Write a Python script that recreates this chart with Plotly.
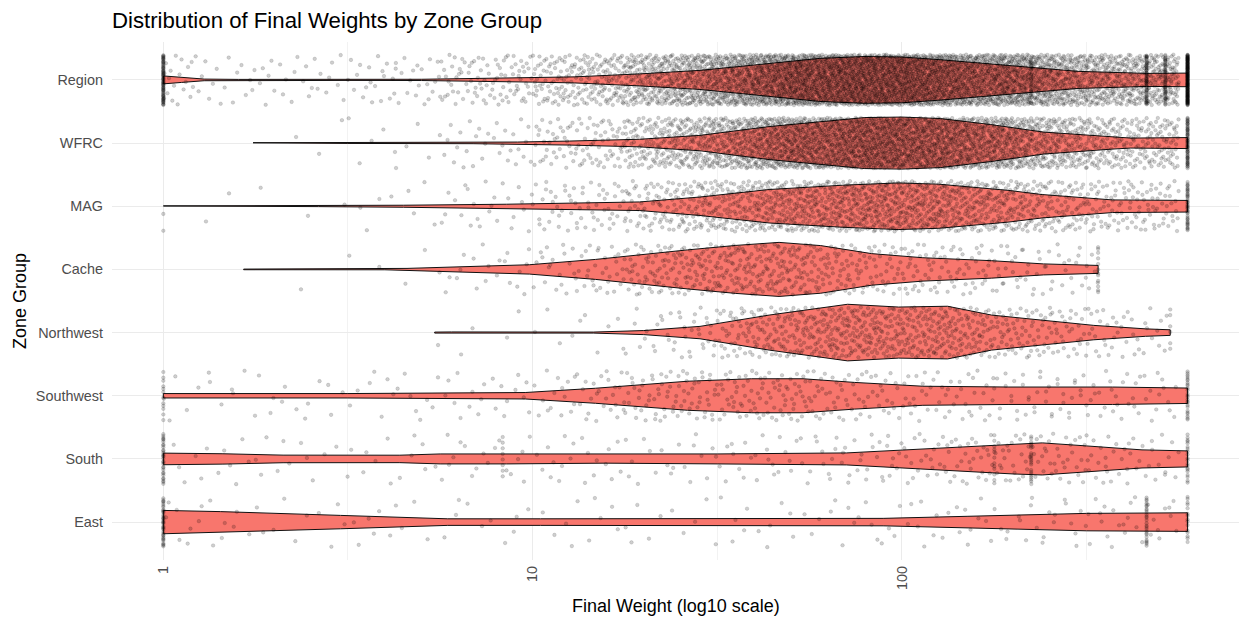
import math
import numpy as np
import plotly.graph_objects as go

# ---------------- data ----------------
groups = ["East", "South", "Southwest", "Northwest", "Cache", "MAG", "WFRC", "Region"]  # bottom -> top

# violin outlines: weight (x) and half-width (category units, max 0.45)
region_w = [1, 1.12, 1.29, 1.6, 3.2, 5.0, 7.2, 10, 13, 19.5, 28.4, 39, 60, 79, 100, 127, 195, 300, 460, 594]
region_hw = [0.063, 0.040, 0.013, 0.008, 0.008, 0.010, 0.024, 0.035, 0.048, 0.095, 0.151, 0.230, 0.341, 0.370, 0.362, 0.320, 0.230, 0.135, 0.103, 0.108]

wfrc_w = [1.75, 3.16, 6.9, 9.1, 12.6, 19.5, 28.4, 43.7, 79.4, 100, 127, 174, 242, 372, 417, 594]
wfrc_hw = [0.005, 0.006, 0.010, 0.016, 0.032, 0.060, 0.122, 0.261, 0.404, 0.412, 0.388, 0.293, 0.174, 0.095, 0.079, 0.087]

mag_w = [1, 2.63, 4.47, 8.5, 19.5, 28.4, 43.7, 69.2, 97.7, 126, 195, 240, 372, 594]
mag_hw = [0.005, 0.006, 0.016, 0.032, 0.068, 0.146, 0.265, 0.333, 0.369, 0.349, 0.250, 0.185, 0.100, 0.092]

cache_w = [1.65, 3.98, 4.57, 9.8, 14.8, 26.3, 35.5, 46.5, 60.3, 82.8, 114, 175, 242, 340]
cache_hw = [0.005, 0.006, 0.016, 0.074, 0.158, 0.309, 0.380, 0.428, 0.377, 0.250, 0.185, 0.138, 0.087, 0.063]

northwest_w = [5.43, 6.03, 14.6, 20, 26.3, 28.4, 43.7, 71.3, 98, 133, 175, 242, 331, 457, 533]
northwest_hw = [0.008, 0.010, 0.008, 0.032, 0.084, 0.098, 0.277, 0.448, 0.404, 0.417, 0.277, 0.190, 0.114, 0.059, 0.044]

southwest_w = [1, 3.16, 9.55, 14.8, 26.3, 39.2, 54, 74.5, 114, 195, 372, 594]
southwest_hw = [0.035, 0.035, 0.051, 0.119, 0.230, 0.269, 0.269, 0.211, 0.151, 0.138, 0.138, 0.122]

south_w = [1, 1.45, 2.11, 4.37, 5.62, 8.5, 15.8, 31.6, 70.8, 126, 200, 240, 316, 447, 594]
south_hw = [0.092, 0.082, 0.060, 0.059, 0.079, 0.079, 0.067, 0.079, 0.095, 0.174, 0.238, 0.254, 0.206, 0.143, 0.127]

east_w = [1, 1.43, 3.02, 5.89, 10.5, 89, 151, 316, 594]
east_hw = [0.185, 0.166, 0.106, 0.052, 0.052, 0.059, 0.092, 0.138, 0.147]

# observation counts per log10 bin [0,.25), [.25,.5), ... [2.5,2.75)
bin_edges_log = [0, 0.25, 0.5, 0.75, 1.0, 1.25, 1.5, 1.75, 2.0, 2.25, 2.5, 2.75]
region_counts = [35, 25, 40, 90, 200, 450, 800, 1000, 900, 650, 420]
wfrc_counts = [0, 3, 10, 30, 90, 280, 560, 760, 680, 420, 220]
mag_counts = [2, 3, 8, 25, 60, 150, 260, 330, 300, 190, 110]
cache_counts = [0, 1, 5, 20, 50, 130, 170, 110, 75, 45, 5]
northwest_counts = [0, 0, 1, 4, 10, 40, 140, 210, 190, 100, 40]
southwest_counts = [12, 12, 15, 20, 40, 75, 85, 60, 45, 40, 35]
south_counts = [12, 12, 12, 18, 20, 20, 25, 35, 50, 60, 40]
east_counts = [15, 10, 10, 10, 10, 10, 12, 15, 18, 22, 28]

# repeated exact values (vertical stacks of points)
region_spike_w = [1, 224, 460, 517, 594]
region_spike_n = [70, 20, 50, 40, 150]
wfrc_spike_w = [594]
wfrc_spike_n = [60]
mag_spike_w = [1, 594]
mag_spike_n = [2, 40]
cache_spike_w = [340]
cache_spike_n = [12]
northwest_spike_w = [533]
northwest_spike_n = [6]
southwest_spike_w = [1, 594]
southwest_spike_n = [12, 25]
south_spike_w = [1, 8.3, 178, 224, 594]
south_spike_n = [30, 8, 12, 20, 20]
east_spike_w = [1, 460, 594]
east_spike_n = [35, 25, 15]

tick_vals = [1, 10, 100]
tick_text = ["1", "10", "100"]

# ---------------- figure ----------------
violins = {
    "Region": (region_w, region_hw, region_counts, region_spike_w, region_spike_n),
    "WFRC": (wfrc_w, wfrc_hw, wfrc_counts, wfrc_spike_w, wfrc_spike_n),
    "MAG": (mag_w, mag_hw, mag_counts, mag_spike_w, mag_spike_n),
    "Cache": (cache_w, cache_hw, cache_counts, cache_spike_w, cache_spike_n),
    "Northwest": (northwest_w, northwest_hw, northwest_counts, northwest_spike_w, northwest_spike_n),
    "Southwest": (southwest_w, southwest_hw, southwest_counts, southwest_spike_w, southwest_spike_n),
    "South": (south_w, south_hw, south_counts, south_spike_w, south_spike_n),
    "East": (east_w, east_hw, east_counts, east_spike_w, east_spike_n),
}

FONT = "Liberation Sans, Arial, sans-serif"
fig = go.Figure()

for gi, g in enumerate(groups):
    w, hw, _, _, _ = violins[g]
    xs = list(w) + list(w[::-1]) + [w[0]]
    ys = [gi + h for h in hw] + [gi - h for h in hw[::-1]] + [gi + hw[0]]
    fig.add_trace(go.Scatter(
        x=xs, y=ys, mode="lines", fill="toself", fillcolor="#F8766D",
        line=dict(color="#111111", width=1), hoverinfo="skip", showlegend=False))


def halton(i, base):
    f, r = 1.0, 0.0
    while i > 0:
        f /= base
        r += f * (i % base)
        i //= base
    return r


# jittered points: positions inside each bin follow the violin outline,
# vertical jitter (+/-0.4) from a deterministic Halton sequence
px, py = [], []
k = 7
for gi, g in enumerate(groups):
    w, hw, counts, sw, sn = violins[g]
    lw = np.log10(np.array(w, dtype=float))
    lo, hi = lw[0], lw[-1]
    for i, c in enumerate(counts):
        a = max(bin_edges_log[i], lo)
        b = min(bin_edges_log[i + 1], hi)
        if b <= a or c == 0:
            continue
        grid = np.linspace(a, b, 60)
        dens = np.interp(grid, lw, np.array(hw)) + 0.02
        cdf = np.concatenate([[0], np.cumsum((dens[1:] + dens[:-1]) / 2)])
        for _ in range(c):
            k += 1
            u = halton(k, 2)
            v = halton(k, 3)
            lx = float(np.interp(u * cdf[-1], cdf, grid))
            px.append(10 ** lx)
            py.append(gi + (v - 0.5) * 0.8)
    for val, n in zip(sw, sn):
        for _ in range(n):
            k += 1
            v = halton(k, 3)
            px.append(val)
            py.append(gi + (v - 0.5) * 0.8)

fig.add_trace(go.Scatter(
    x=px, y=py, mode="markers",
    marker=dict(size=3.6, color="rgba(0,0,0,0.19)", line=dict(width=0.6, color="rgba(0,0,0,0.19)")),
    hoverinfo="skip", showlegend=False))

fig.update_layout(
    width=1239, height=618,
    margin=dict(l=112, r=0, t=42, b=58, autoexpand=False),
    paper_bgcolor="white", plot_bgcolor="white",
    font=dict(family=FONT, size=14.4, color="#4D4D4D"),
    title=dict(text="Distribution of Final Weights by Zone Group",
               font=dict(family=FONT, size=22.2, color="black"),
               x=112 / 1239, xanchor="left", xref="container",
               y=1 - 20 / 618, yanchor="middle", yref="container"),
    xaxis=dict(type="log", range=[-0.139, 2.913], automargin=False,
               tickmode="array", tickvals=tick_vals, ticktext=tick_text,
               tickangle=-90, ticks="", showline=False, zeroline=False,
               gridcolor="#EBEBEB", gridwidth=1,
               minor=dict(tickmode="array", tickvals=[10 ** 0.5, 10 ** 1.5, 10 ** 2.5],
                          showgrid=True, gridcolor="#F2F2F2", gridwidth=0.6, ticks=""),
               tickfont=dict(family=FONT, size=14.4, color="#4D4D4D"),
               ticklabelstandoff=2),
    yaxis=dict(range=[-0.6, 7.6], automargin=False, tickmode="array",
               tickvals=list(range(len(groups))),
               ticktext=groups, ticks="", showline=False, zeroline=False,
               gridcolor="#EBEBEB", gridwidth=1,
               tickfont=dict(family=FONT, size=14.4, color="#4D4D4D"),
               ticklabelstandoff=8),
    annotations=[
        dict(text="Final Weight (log10 scale)", xref="paper", yref="paper", x=0.5, y=0,
             xanchor="center", yanchor="middle", yshift=-46, showarrow=False,
             font=dict(family=FONT, size=18, color="black")),
        dict(text="Zone Group", xref="paper", yref="paper", x=0, y=0.5,
             xanchor="center", yanchor="middle", xshift=-92, textangle=-90, showarrow=False,
             font=dict(family=FONT, size=18, color="black")),
    ],
)

fig.write_html(
    "out.html",
    config={"displayModeBar": False},
    post_script="document.body.style.margin='0';document.body.style.padding='0';"
                "document.documentElement.style.overflow='hidden';",
)
